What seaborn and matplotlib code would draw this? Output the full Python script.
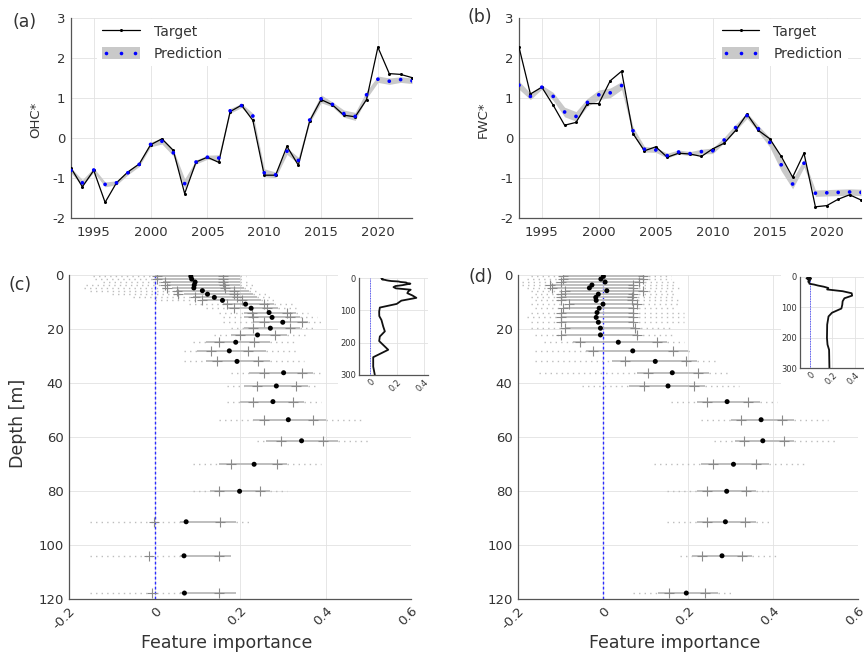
import matplotlib
matplotlib.use("Agg")
import matplotlib.pyplot as plt
from matplotlib.lines import Line2D
from matplotlib.patches import Patch, Rectangle
from matplotlib.legend_handler import HandlerLine2D, HandlerTuple
import numpy as np
import seaborn as sns

# ---- time series (panels a, b) ----
years = list(range(1993, 2024))

ohc_target = [-0.75, -1.22, -0.81, -1.61, -1.12, -0.85, -0.65, -0.17, -0.02, -0.31,
              -1.39, -0.60, -0.48, -0.61, 0.66, 0.82, 0.44, -0.93, -0.93, -0.21,
              -0.68, 0.43, 0.96, 0.83, 0.57, 0.53, 0.96, 2.27, 1.61, 1.59, 1.51]
ohc_pred = [-0.81, -1.12, -0.80, -1.16, -1.12, -0.87, -0.66, -0.16, -0.08, -0.37,
            -1.14, -0.60, -0.48, -0.50, 0.68, 0.81, 0.55, -0.87, -0.92, -0.33,
            -0.56, 0.45, 0.98, 0.84, 0.61, 0.54, 1.08, 1.47, 1.42, 1.46, 1.43]
ohc_spread = [0.06, 0.08, 0.05, 0.06, 0.05, 0.05, 0.05, 0.06, 0.07, 0.08,
              0.12, 0.05, 0.05, 0.08, 0.06, 0.05, 0.07, 0.10, 0.07, 0.08,
              0.08, 0.07, 0.10, 0.06, 0.09, 0.10, 0.09, 0.08, 0.08, 0.07, 0.07]

fwc_target = [2.27, 1.10, 1.27, 0.82, 0.32, 0.39, 0.86, 0.86, 1.43, 1.67,
              0.11, -0.32, -0.22, -0.48, -0.38, -0.40, -0.46, -0.27, -0.13, 0.19,
              0.60, 0.19, -0.02, -0.46, -0.98, -0.38, -1.72, -1.69, -1.53, -1.42, -1.55]
fwc_pred = [1.32, 1.04, 1.27, 1.04, 0.65, 0.54, 0.89, 1.08, 1.13, 1.31,
            0.18, -0.28, -0.30, -0.44, -0.35, -0.39, -0.34, -0.32, -0.05, 0.26,
            0.56, 0.23, -0.11, -0.67, -1.15, -0.63, -1.38, -1.37, -1.36, -1.35, -1.36]
fwc_spread = [0.10, 0.08, 0.05, 0.10, 0.12, 0.12, 0.10, 0.12, 0.12, 0.10,
              0.10, 0.07, 0.06, 0.06, 0.05, 0.05, 0.06, 0.07, 0.07, 0.08,
              0.07, 0.08, 0.12, 0.15, 0.12, 0.10, 0.08, 0.08, 0.08, 0.08, 0.08]

# ---- feature importance by depth (panels c, d) ----
depth = [0.5, 1.5, 2.6, 3.7, 4.8, 5.8, 7.1, 8.3, 9.4, 10.8, 12.3, 13.9, 15.7, 17.5,
         19.7, 22.2, 24.9, 28.1, 32.0, 36.2, 41.1, 46.9, 53.6, 61.4, 70.1, 80.1,
         91.4, 104.0, 117.8]

c_median = [0.085, 0.087, 0.095, 0.093, 0.092, 0.112, 0.124, 0.140, 0.159, 0.213,
            0.226, 0.268, 0.275, 0.300, 0.271, 0.241, 0.190, 0.175, 0.193, 0.302,
            0.285, 0.277, 0.313, 0.344, 0.233, 0.199, 0.074, 0.069, 0.070]
c_q_lo = [0.005, 0.005, 0.025, 0.025, 0.030, 0.052, 0.055, 0.095, 0.110, 0.170,
          0.185, 0.228, 0.230, 0.255, 0.231, 0.200, 0.151, 0.132, 0.147, 0.257,
          0.240, 0.230, 0.257, 0.296, 0.180, 0.151, -0.001, -0.012, -0.006]
c_q_hi = [0.161, 0.161, 0.160, 0.162, 0.165, 0.185, 0.187, 0.193, 0.204, 0.255,
          0.262, 0.310, 0.318, 0.345, 0.318, 0.283, 0.233, 0.218, 0.242, 0.346,
          0.332, 0.324, 0.370, 0.393, 0.286, 0.247, 0.154, 0.150, 0.152]
c_w_lo = [0.00, 0.00, 0.02, 0.03, 0.04, 0.05, 0.07, 0.09, 0.11, 0.16, 0.17, 0.21,
          0.21, 0.23, 0.21, 0.18, 0.12, 0.10, 0.12, 0.22, 0.21, 0.20, 0.23, 0.26,
          0.15, 0.13, 0.06, 0.06, 0.06]
c_w_hi = [0.20, 0.20, 0.20, 0.20, 0.21, 0.22, 0.23, 0.24, 0.25, 0.28, 0.29, 0.33,
          0.34, 0.36, 0.34, 0.31, 0.27, 0.26, 0.27, 0.37, 0.36, 0.35, 0.40, 0.43,
          0.31, 0.27, 0.19, 0.18, 0.19]
c_min = [-0.145, -0.14, -0.12, -0.16, -0.165, -0.15, -0.10, -0.05, 0.00, 0.08,
         0.12, 0.15, 0.16, 0.16, 0.18, 0.14, 0.09, 0.07, 0.07, 0.18, 0.17, 0.17,
         0.15, 0.24, 0.09, 0.09, -0.15, -0.15, -0.15]
c_max = [0.215, 0.21, 0.22, 0.23, 0.235, 0.24, 0.26, 0.27, 0.28, 0.33, 0.33, 0.36,
         0.38, 0.39, 0.37, 0.36, 0.33, 0.33, 0.35, 0.39, 0.38, 0.39, 0.49, 0.50,
         0.39, 0.31, 0.22, 0.18, 0.19]

d_median = [0.001, -0.005, 0.005, -0.026, -0.032, 0.009, -0.011, -0.017, -0.016,
            0.000, -0.009, -0.014, -0.016, -0.011, -0.006, -0.006, 0.036, 0.070,
            0.123, 0.163, 0.153, 0.292, 0.372, 0.376, 0.307, 0.291, 0.288, 0.280, 0.196]
d_q_lo = [-0.095, -0.095, -0.100, -0.125, -0.120, -0.090, -0.100, -0.100, -0.100,
          -0.080, -0.095, -0.100, -0.100, -0.100, -0.090, -0.100, -0.053, -0.024,
          0.052, 0.105, 0.096, 0.244, 0.325, 0.331, 0.259, 0.245, 0.245, 0.233, 0.155]
d_q_hi = [0.095, 0.095, 0.085, 0.070, 0.070, 0.095, 0.070, 0.068, 0.068, 0.080,
          0.070, 0.070, 0.070, 0.070, 0.075, 0.080, 0.126, 0.165, 0.195, 0.224,
          0.215, 0.341, 0.422, 0.426, 0.361, 0.337, 0.333, 0.327, 0.241]
d_w_lo = [-0.095, -0.095, -0.10, -0.125, -0.12, -0.09, -0.10, -0.10, -0.10, -0.08,
          -0.095, -0.10, -0.10, -0.10, -0.09, -0.10, -0.07, -0.04, 0.02, 0.08, 0.06,
          0.22, 0.30, 0.31, 0.23, 0.22, 0.22, 0.21, 0.13]
d_w_hi = [0.095, 0.095, 0.085, 0.07, 0.07, 0.095, 0.07, 0.068, 0.068, 0.08, 0.07,
          0.07, 0.07, 0.07, 0.075, 0.08, 0.15, 0.20, 0.22, 0.25, 0.24, 0.37, 0.45,
          0.45, 0.39, 0.36, 0.36, 0.35, 0.27]
d_min = [-0.17, -0.18, -0.19, -0.19, -0.18, -0.17, -0.16, -0.17, -0.16, -0.17,
         -0.16, -0.17, -0.18, -0.17, -0.17, -0.16, -0.14, -0.16, -0.16, -0.15,
         -0.05, 0.16, 0.23, 0.26, 0.12, 0.15, 0.15, 0.18, 0.07]
d_max = [0.16, 0.16, 0.17, 0.17, 0.18, 0.17, 0.17, 0.17, 0.18, 0.18, 0.17, 0.19,
         0.19, 0.19, 0.16, 0.17, 0.19, 0.21, 0.27, 0.30, 0.32, 0.41, 0.53, 0.55,
         0.48, 0.39, 0.39, 0.41, 0.30]

# deeper part of the median profiles shown in the insets
c_deep_depth = [130, 150, 165, 181, 195, 222, 245, 274, 300]
c_deep = [0.086, 0.099, 0.111, 0.074, 0.069, 0.136, 0.025, 0.025, 0.037]
d_deep_depth = [130, 157, 201, 223, 240, 300]
d_deep = [0.165, 0.153, 0.151, 0.156, 0.170, 0.173]

sns.set_style("white")
plt.rcParams['font.family'] = ['DejaVu Sans']
plt.rcParams['axes.unicode_minus'] = False

SPINE = '#555555'
TXT = '#333333'
GRID = '#e2e2e2'
ZERO = '#2a2aff'
W, H = 864, 653


def box(l, t, r, b):
    return [l / W, 1 - b / H, (r - l) / W, (b - t) / H]


def style_axes(ax, size=9):
    for s in ['top', 'right']:
        ax.spines[s].set_visible(False)
    for s in ['left', 'bottom']:
        ax.spines[s].set_color(SPINE)
        ax.spines[s].set_linewidth(0.9)
    ax.grid(True, color=GRID, lw=0.6)
    ax.set_axisbelow(True)
    ax.tick_params(direction='in', length=3, width=0.7, color=SPINE,
                   labelsize=size, labelcolor=TXT, pad=4)


def rotate_labels(ax):
    for lab in ax.get_xticklabels():
        lab.set_rotation(45)
        lab.set_ha('right')
        lab.set_va('top')
        lab.set_rotation_mode('anchor')


def draw_series(ax, target, pred, spread, ylabel, leg_x):
    lo = np.array(pred) - np.array(spread)
    hi = np.array(pred) + np.array(spread)
    ax.fill_between(years, lo, hi, color='#c9c9c9', lw=0, zorder=2)
    sns.lineplot(x=years, y=target, ax=ax, color='k', lw=0.9, marker='o',
                 markersize=2.2, markeredgewidth=0, zorder=3)
    sns.scatterplot(x=years, y=pred, ax=ax, color='#0000ff', s=7,
                    edgecolor='none', zorder=4)
    ax.set_xlim(1993, 2023)
    ax.set_ylim(-2, 3)
    ax.set_xticks([1995, 2000, 2005, 2010, 2015, 2020])
    ax.set_yticks([-2, -1, 0, 1, 2, 3])
    style_axes(ax, 9.5)
    ax.tick_params(axis='x', pad=6)
    ax.set_xlabel('')
    ax.set_ylabel(ylabel, fontsize=9.5, color=TXT)
    ax.yaxis.set_label_coords(-0.085, 0.49)

    h_target = Line2D([], [], color='k', lw=0.9, marker='o', markersize=2.2,
                      markeredgewidth=0)
    h_band = Patch(facecolor='#c9c9c9', edgecolor='none')
    h_dots = Line2D([], [], color='#0000ff', ls='none', marker='o',
                    markersize=2.6, markeredgewidth=0)
    leg = ax.legend([h_target, (h_band, h_dots)], ['Target', 'Prediction'],
                    handler_map={h_dots: HandlerLine2D(numpoints=3),
                                 tuple: HandlerTuple(ndivide=1)},
                    loc='upper left', bbox_to_anchor=(leg_x, 0.995),
                    borderaxespad=0, frameon=True, facecolor='white',
                    edgecolor='none', framealpha=1, fancybox=False,
                    fontsize=10, handlelength=2.7, handleheight=0.9,
                    handletextpad=1.0, labelspacing=0.6, numpoints=1,
                    borderpad=0.4)
    for t in leg.get_texts():
        t.set_color(TXT)
    leg.set_zorder(5)


def draw_importance(ax, med, qlo, qhi, wlo, whi, vmin, vmax):
    ax.axvline(0, color=ZERO, ls=(0, (2, 1.6)), lw=1.0, zorder=2)
    dots = (0, (1, 3))
    ax.hlines(depth, vmin, wlo, colors='#bdbdbd', linestyles=dots, lw=1.0, zorder=2)
    ax.hlines(depth, whi, vmax, colors='#bdbdbd', linestyles=dots, lw=1.0, zorder=2)
    ax.hlines(depth, wlo, whi, colors='#b9b9b9', lw=1.3, zorder=3)
    sns.scatterplot(x=qlo + qhi, y=depth + depth, ax=ax, marker='+', s=48,
                    color='#8a8a8a', linewidth=0.8, zorder=4)
    sns.scatterplot(x=med, y=depth, ax=ax, color='k', s=13, edgecolor='none',
                    zorder=5)
    ax.set_xlim(-0.2, 0.6)
    ax.set_ylim(120, 0)
    ax.set_yticks([0, 20, 40, 60, 80, 100, 120])
    ax.set_xticks([-0.2, 0, 0.2, 0.4, 0.6])
    ax.set_xticklabels(['-0.2', '0', '0.2', '0.4', '0.6'])
    style_axes(ax, 9.5)
    rotate_labels(ax)
    ax.set_ylabel('')
    ax.set_xlabel('Feature importance', fontsize=12.5, color=TXT)
    ax.xaxis.set_label_coords(0.46, -0.108)


def draw_inset(fig, rect, prof, prof_depth, xlim):
    ins = fig.add_axes(rect)
    ins.set_zorder(2)
    ins.axvline(0, color=ZERO, ls=(0, (1, 1)), lw=0.6)
    sns.lineplot(x=prof, y=prof_depth, ax=ins, sort=False, estimator=None,
                 color='#111111', lw=1.3)
    ins.set_xlim(*xlim)
    ins.set_ylim(300, 0)
    ins.set_xticks([0, 0.2, 0.4])
    ins.set_xticklabels(['0', '0.2', '0.4'])
    ins.set_yticks([0, 100, 200, 300])
    style_axes(ins, 6)
    ins.tick_params(length=2, pad=2)
    rotate_labels(ins)
    ins.set_xlabel('')
    ins.set_ylabel('')
    return ins


fig = plt.figure(figsize=(8.64, 6.53), dpi=100)

ax_a = fig.add_axes(box(71, 18, 412, 218))
draw_series(ax_a, ohc_target, ohc_pred, ohc_spread, 'OHC*', 0.075)

ax_b = fig.add_axes(box(519, 18, 861, 218))
draw_series(ax_b, fwc_target, fwc_pred, fwc_spread, 'FWC*', 0.577)

ax_c = fig.add_axes(box(69, 275, 411, 599))
draw_importance(ax_c, c_median, c_q_lo, c_q_hi, c_w_lo, c_w_hi, c_min, c_max)
ax_c.set_ylabel('Depth [m]', fontsize=12.5, color=TXT)
ax_c.yaxis.set_label_coords(-0.123, 0.543)

ax_d = fig.add_axes(box(518, 275, 858, 599))
draw_importance(ax_d, d_median, d_q_lo, d_q_hi, d_w_lo, d_w_hi, d_min, d_max)

# white area behind the insets
for l, r in [(338, 433), (781, 864)]:
    fig.add_artist(Rectangle((l / W, 1 - 392 / H), (r - l) / W, 124 / H,
                             transform=fig.transFigure, facecolor='white',
                             edgecolor='none', zorder=1))

draw_inset(fig, box(359, 278, 428, 375), c_median + c_deep, depth + c_deep_depth,
           (-0.08, 0.43))
draw_inset(fig, box(800, 277, 866, 368), d_median + d_deep, depth + d_deep_depth,
           (-0.09, 0.5))

for lab, x, y in [('(a)', 13, 22), ('(b)', 468, 17), ('(c)', 8, 285), ('(d)', 469, 277)]:
    fig.text(x / W, 1 - y / H, lab, fontsize=12.5, color=TXT, ha='left', va='center')

fig.savefig('out.png', dpi=100)
